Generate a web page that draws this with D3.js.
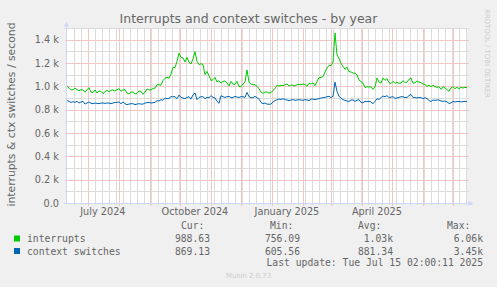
<!DOCTYPE html>
<html><head><meta charset="utf-8">
<script src="https://cdn.jsdelivr.net/npm/d3@7"></script>
<style>body{margin:0;background:#F0F0F0;} svg{display:block;}</style>
</head><body>
<svg id="c" width="497" height="287"></svg>
<script>
const startTime = "2024-06-10T02:00:11Z";
const endTime = "2025-07-15T02:00:11Z";
const stepDays = 2;
const interrupts = [
1000,989,969,971,986,971,963,971,969,949,
971,989,951,946,969,943,960,957,937,954,
966,954,966,969,960,971,980,957,971,969,
943,934,951,951,934,943,960,957,931,951,
977,969,971,980,986,1014,1014,1009,1049,1069,
1077,1069,1106,1163,1160,1214,1283,1249,1243,1209,
1249,1206,1192,1237,1297,1214,1186,1194,1186,1100,
1128,1091,1049,1057,1077,1037,1049,1026,1043,1046,
1029,1003,1043,1020,1017,1043,997,997,1020,1037,
1140,1037,1020,1014,1014,1000,980,951,940,951,
951,943,946,966,980,1009,1003,1009,1006,1014,
1020,1003,1011,1009,1003,1014,1017,1014,1020,1017,
1000,1026,1020,1029,1006,1043,1074,1077,1083,1123,
1157,1180,1177,1209,1457,1271,1237,1197,1171,1146,
1163,1126,1123,1114,1111,1100,1054,1040,1028,989,
997,994,997,974,994,1071,1037,1028,1071,1051,
1066,1031,1023,1043,1026,1037,1026,1028,1049,1031,
1037,1060,1071,1026,1031,1046,1037,1031,1020,1014,
1000,1009,997,1009,997,991,997,974,997,986,
971,957,986,997,980,991,980,991,986,991,
989];
const contextSwitches = [
877,871,862,869,862,871,857,866,871,848,
857,866,854,851,857,854,851,857,857,854,
857,857,851,857,862,862,866,851,866,851,
843,848,851,851,843,848,851,848,848,857,
860,862,857,860,862,877,874,886,880,900,
894,897,911,911,911,894,925,905,900,894,
905,911,891,928,943,886,905,911,911,894,
905,903,920,905,900,871,854,920,911,905,
911,914,903,905,914,908,905,911,911,905,
948,911,903,903,914,903,891,862,851,857,
848,846,848,866,877,886,891,888,894,886,
883,877,883,886,880,883,886,883,880,886,
883,877,891,891,886,891,894,900,903,905,
911,914,903,914,1037,957,914,900,886,880,
874,871,883,883,871,880,886,862,860,871,
869,871,866,851,871,894,888,903,917,911,
920,903,908,911,897,900,905,911,911,903,
905,920,931,905,903,900,905,903,894,903,
894,880,869,883,880,883,883,874,871,874,
866,854,857,871,866,869,871,866,869,871,
869];
const yTicks = [0,200,400,600,800,1000,1200,1400];
const yTickLabels = ["0.0","0.2 k","0.4 k","0.6 k","0.8 k","1.0 k","1.2 k","1.4 k"];
const monthLabelDates = ["2024-07-01","2024-10-01","2025-01-01","2025-04-01"];
const seriesNames = ["interrupts","context switches"];
const seriesColors = ["#00CC00","#0066B3"];
const curVals = ["988.63","869.13"];
const minVals = ["756.09","605.56"];
const avgVals = ["1.03k","881.34"];
const maxVals = ["6.06k","3.45k"];
const titleText = "Interrupts and context switches - by year";
const yTitle = "interrupts & ctx switches / second";
const lastUpdate = "Last update: Tue Jul 15 02:00:11 2025";

const svg = d3.select("#c");
const W = 497, H = 287;
const X0 = 67, X1 = 467, Y0 = 203, Y1 = 28;
const t0 = new Date(startTime), t1 = new Date(endTime);
const xs = d3.scaleUtc().domain([t0, t1]).range([X0, X1]);
const ys = d3.scaleLinear().domain([0, 1500]).range([Y0, Y1]);
const FONT = "#666666";
const sans = "'DejaVu Sans', sans-serif", mono = "'DejaVu Sans Mono', monospace";

svg.append("rect").attr("width", W).attr("height", H).attr("fill", "#F0F0F0");
svg.append("rect").attr("x", X0).attr("y", Y1).attr("width", X1 - X0).attr("height", Y0 - Y1).attr("fill", "#FFFFFF");

const grid = svg.append("g");
const minorCol = "#DCDCDC", majorCol = "#F3C6C6";
const minorVals = d3.range(1, 16).map(k => k * 100).filter(v => v % 200 !== 0);
minorVals.forEach(v => {
  const y = Math.round(ys(v)) + 0.5;
  grid.append("line").attr("x1", X0 - 2).attr("x2", X1 + 2).attr("y1", y).attr("y2", y)
    .attr("stroke", minorCol).attr("stroke-width", 1);
});
const months = d3.utcMonth.range(t0, t1);
const weeks = d3.utcMonday.range(t0, t1);
weeks.forEach(d => {
  const x = Math.round(xs(d)) + 0.5;
  grid.append("line").attr("x1", x).attr("x2", x).attr("y1", Y1).attr("y2", Y0 + 2)
    .attr("stroke", minorCol).attr("stroke-width", 1);
});
yTicks.forEach(v => {
  const y = Math.round(ys(v)) + 0.5;
  grid.append("line").attr("x1", X0 - 2).attr("x2", X1 + 2).attr("y1", y).attr("y2", y)
    .attr("stroke", majorCol).attr("stroke-width", 1);
});
months.forEach(d => {
  const x = Math.round(xs(d)) + 0.5;
  grid.append("line").attr("x1", x).attr("x2", x).attr("y1", Y1).attr("y2", Y0 + 3)
    .attr("stroke", majorCol).attr("stroke-width", 1);
});

yTicks.forEach((v, i) => {
  svg.append("text").attr("x", 59).attr("y", ys(v) + 3.5).attr("text-anchor", "end")
    .attr("font-family", sans).attr("font-size", 9.72).attr("fill", FONT).text(yTickLabels[i]);
});
const fmt = d3.utcFormat("%B %Y");
monthLabelDates.forEach(s => {
  const d = new Date(s + "T00:00:00Z");
  const xm = xs(d3.utcDay.offset(d, 15));
  svg.append("text").attr("x", xm).attr("y", 215).attr("text-anchor", "middle")
    .attr("font-family", sans).attr("font-size", 9.72).attr("fill", FONT).text(fmt(d));
});

const line = d3.line().x((v, i) => xs(d3.utcDay.offset(t0, i * stepDays))).y(v => ys(v));
[interrupts, contextSwitches].forEach((arr, k) => {
  svg.append("path").attr("d", line(arr)).attr("fill", "none")
    .attr("stroke", seriesColors[k]).attr("stroke-width", 1);
});

const AX = "#CFD6F8";
svg.append("line").attr("x1", X0 - 0.5).attr("x2", X0 - 0.5).attr("y1", Y0 + 0.5).attr("y2", 25).attr("stroke", AX);
svg.append("line").attr("x1", X0 - 3).attr("x2", X1 + 2).attr("y1", Y0 + 0.5).attr("y2", Y0 + 0.5).attr("stroke", AX);
svg.append("path").attr("d", `M${X0 - 0.5},21.5 L${X0 - 3},26.5 L${X0 + 2},26.5 Z`).attr("fill", AX);
svg.append("path").attr("d", `M${X1 + 6.5},${Y0 + 0.5} L${X1 + 1.5},${Y0 - 2} L${X1 + 1.5},${Y0 + 3} Z`).attr("fill", AX);

svg.append("text").attr("x", 248.5).attr("y", 23).attr("text-anchor", "middle")
  .attr("font-family", sans).attr("font-size", 12.5).attr("fill", FONT).text(titleText);
svg.append("text").attr("transform", "translate(15,114.5) rotate(-90)").attr("text-anchor", "middle")
  .attr("font-family", sans).attr("font-size", 10.8).attr("fill", FONT).text(yTitle);
svg.append("text").attr("transform", "translate(485,53.5) rotate(90)").attr("text-anchor", "middle")
  .attr("font-family", sans).attr("font-size", 6.9).attr("fill", "#CCCCCC").text("RRDTOOL / TOBI OETIKER");

const lg = svg.append("g").attr("font-family", mono).attr("font-size", 9.72).attr("fill", FONT)
  .attr("xml:space", "preserve");
const headers = [["Cur:", 181], ["Min:", 270], ["Avg:", 358], ["Max:", 447]];
headers.forEach(h => lg.append("text").attr("x", h[1]).attr("y", 229).text(h[0]));
const rows = [229 + 13, 229 + 25.5];
seriesNames.forEach((n, k) => {
  const y = rows[k];
  svg.append("rect").attr("x", 14).attr("y", y - 6.5).attr("width", 6).attr("height", 6).attr("fill", seriesColors[k]);
  lg.append("text").attr("x", 27).attr("y", y).text(n);
  lg.append("text").attr("x", 210).attr("y", y).attr("text-anchor", "end").text(curVals[k]);
  lg.append("text").attr("x", 300).attr("y", y).attr("text-anchor", "end").text(minVals[k]);
  lg.append("text").attr("x", 393).attr("y", y).attr("text-anchor", "end").text(avgVals[k]);
  lg.append("text").attr("x", 483).attr("y", y).attr("text-anchor", "end").text(maxVals[k]);
});
lg.append("text").attr("x", 483).attr("y", 266).attr("text-anchor", "end").text(lastUpdate);
svg.append("text").attr("x", 248.5).attr("y", 278).attr("text-anchor", "middle")
  .attr("font-family", sans).attr("font-size", 6.9).attr("fill", "#CCCCCC").text("Munin 2.0.73");
</script>
</body></html>
